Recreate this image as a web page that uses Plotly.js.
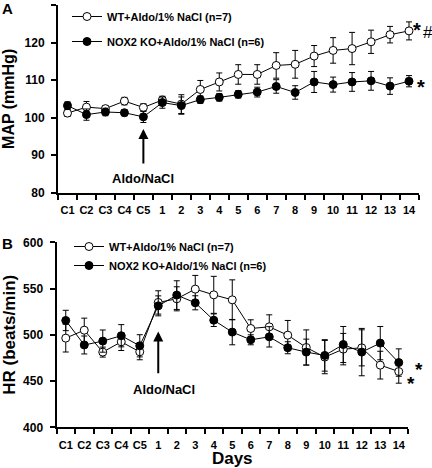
<!DOCTYPE html>
<html>
<head>
<meta charset="utf-8">
<script src="https://cdn.plot.ly/plotly-3.0.1.min.js"></script>
<style>html,body{margin:0;padding:0;background:#fff;}#chart{width:432px;height:468px;}</style>
</head>
<body>
<div id="chart"></div>
<script>
// ---- data ----
const days = ['C1','C2','C3','C4','C5','1','2','3','4','5','6','7','8','9','10','11','12','13','14'];

const mapWT    = [101.2,102.8,102.4,104.4,102.7,104.7,103.6,107.5,109.5,111.5,111.5,113.9,114.2,116.4,117.9,118.4,120.2,122.1,123.1];
const mapWTerr = [0.9,1.5,0.8,1.0,1.0,1.0,2.5,2.4,2.4,2.6,2.6,3.4,3.7,2.8,3.4,4.3,3.1,2.2,2.4];
const mapKO    = [103.2,100.8,101.5,101.3,100.2,104.0,103.2,104.8,105.4,106.2,106.8,108.3,106.7,109.5,108.8,109.5,109.8,108.4,109.7];
const mapKOerr = [1.0,1.5,1.0,0.8,1.5,1.5,2.3,1.0,1.0,1.0,1.3,1.8,1.8,2.8,2.0,2.5,2.5,2.2,1.5];

const hrWT     = [496.4,505,481.3,492.4,481.6,535,538.9,549.4,543.2,537.8,506.8,508.6,499.6,486.3,475.9,484.5,485.9,467.2,460.3];
const hrWTerr  = [15,13,5.4,9.4,8.6,12.6,13,14.8,20,21.6,9.4,13,15.9,19,18,17,19.5,15,12.6];
const hrKO     = [515.5,489,493.2,499,488.1,531.3,542.9,534.6,515.8,502.9,494.6,497.8,486,481.3,477.7,489.5,481.3,491,470];
const hrKOerr  = [11,9.7,12,12,12,10.8,15.5,7.6,6.8,13.7,5.4,11,6.5,14,17,19.5,25.6,18,14.8];

const nameWT = 'WT+Aldo/1% NaCl (n=7)';
const nameKO = 'NOX2 KO+Aldo/1% NaCl (n=6)';

// ---- helpers ----
const W = 432, H = 468;
const px = x => x / W;
const py = y => 1 - y / H;
const FONT = 'Liberation Sans, Arial, sans-serif';

function series(y, err, filled, name, xa, ya, legend, group) {
  return {
    x: days, y: y, name: name, type: 'scatter', mode: 'lines+markers',
    xaxis: xa, yaxis: ya, legend: legend, legendgroup: group,
    line: {color: '#000', width: 1},
    marker: {size: 8, symbol: 'circle', color: filled ? '#000' : '#fff', line: {color: '#000', width: 1}},
    error_y: {type: 'data', array: err, visible: true, color: '#000', thickness: 1, width: 3}
  };
}

const traces = [
  series(mapWT, mapWTerr, false, nameWT, 'x', 'y', 'legend', 'a'),
  series(mapKO, mapKOerr, true, nameKO, 'x', 'y', 'legend', 'b'),
  series(hrWT, hrWTerr, false, nameWT, 'x2', 'y2', 'legend2', 'c'),
  series(hrKO, hrKOerr, true, nameKO, 'x2', 'y2', 'legend2', 'd')
];

const axisBase = {
  showline: true, linecolor: '#000', linewidth: 2, mirror: false,
  ticks: 'outside', ticklen: 5, tickwidth: 2, tickcolor: '#000',
  showgrid: false, zeroline: false, fixedrange: true
};
const xTickFont = {family: FONT, size: 11, color: '#000', weight: 'bold'};
const yTickFont = {family: FONT, size: 12, color: '#000', weight: 'bold'};

const layout = {
  width: W, height: H,
  margin: {l: 0, r: 0, t: 0, b: 0},
  paper_bgcolor: '#fff', plot_bgcolor: '#fff',
  font: {family: FONT, color: '#000'},
  showlegend: true,
  xaxis: Object.assign({}, axisBase, {
    type: 'category', range: [-0.5, 18.5], tickson: 'boundaries', tickangle: 0,
    domain: [px(58), px(418.5)], anchor: 'y', tickfont: xTickFont, ticklabelstandoff: 6
  }),
  yaxis: Object.assign({}, axisBase, {
    range: [80, 130], dtick: 10, domain: [py(192.7), py(5)], anchor: 'x',
    tickfont: yTickFont, ticklabelstandoff: 4,
    title: {text: 'MAP (mmHg)', font: {family: FONT, size: 16, weight: 'bold'}, standoff: 10}
  }),
  xaxis2: Object.assign({}, axisBase, {
    type: 'category', range: [-0.5, 18.5], tickson: 'boundaries', tickangle: 0,
    domain: [px(56.5), px(408)], anchor: 'y2', tickfont: xTickFont, ticklabelstandoff: 6,
    title: {text: 'Days', font: {family: FONT, size: 17, weight: 'bold'}, standoff: 3}
  }),
  yaxis2: Object.assign({}, axisBase, {
    range: [400, 600], dtick: 50, domain: [py(427.3), py(242.3)], anchor: 'x2',
    tickfont: yTickFont, ticklabelstandoff: 4,
    title: {text: 'HR (beats/min)', font: {family: FONT, size: 17, weight: 'bold'}, standoff: 10}
  }),
  legend: {
    x: px(67), y: py(2), xanchor: 'left', yanchor: 'top', bgcolor: 'rgba(0,0,0,0)',
    borderwidth: 0, font: {family: FONT, size: 11, weight: 'bold', color: '#000'},
    itemwidth: 30, tracegroupgap: 6, traceorder: 'grouped'
  },
  legend2: {
    x: px(69), y: py(232), xanchor: 'left', yanchor: 'top', bgcolor: 'rgba(0,0,0,0)',
    borderwidth: 0, font: {family: FONT, size: 11, weight: 'bold', color: '#000'},
    itemwidth: 30, tracegroupgap: 0, traceorder: 'grouped'
  },
  annotations: [
    // panel letters
    {text: 'A', xref: 'paper', yref: 'paper', x: px(7), y: py(8), showarrow: false,
     font: {family: FONT, size: 15, weight: 'bold'}, xanchor: 'center', yanchor: 'middle'},
    {text: 'B', xref: 'paper', yref: 'paper', x: px(7), y: py(243), showarrow: false,
     font: {family: FONT, size: 15, weight: 'bold'}, xanchor: 'center', yanchor: 'middle'},
    // treatment arrows
    {text: '', xref: 'x', yref: 'y', x: 4, y: 97.0, axref: 'x', ayref: 'y', ax: 4, ay: 87.4,
     showarrow: true, arrowhead: 2, arrowsize: 1, arrowwidth: 2, arrowcolor: '#000'},
    {text: 'Aldo/NaCl', xref: 'x', yref: 'y', x: 4, y: 83.7, showarrow: false,
     font: {family: FONT, size: 13, weight: 'bold'}, xanchor: 'center', yanchor: 'middle'},
    {text: '', xref: 'x2', yref: 'y2', x: 5, y: 503.6, axref: 'x2', ayref: 'y2', ax: 5, ay: 456.8,
     showarrow: true, arrowhead: 2, arrowsize: 1, arrowwidth: 2, arrowcolor: '#000'},
    {text: 'Aldo/NaCl', xref: 'x2', yref: 'y2', x: 5.3, y: 440.5, showarrow: false,
     font: {family: FONT, size: 13, weight: 'bold'}, xanchor: 'center', yanchor: 'middle'},
    // significance marks
    {text: '*', xref: 'paper', yref: 'paper', x: px(416.7), y: py(25), showarrow: false,
     font: {family: FONT, size: 20, weight: 'bold'}, xanchor: 'center', yanchor: 'middle', yshift: -5},
    {text: '#', xref: 'paper', yref: 'paper', x: px(427.5), y: py(33), showarrow: false,
     font: {family: FONT, size: 17}, xanchor: 'center', yanchor: 'middle'},
    {text: '*', xref: 'paper', yref: 'paper', x: px(420.5), y: py(81.5), showarrow: false,
     font: {family: FONT, size: 20, weight: 'bold'}, xanchor: 'center', yanchor: 'middle', yshift: -5},
    {text: '*', xref: 'paper', yref: 'paper', x: px(419), y: py(364), showarrow: false,
     font: {family: FONT, size: 19, weight: 'bold'}, xanchor: 'center', yanchor: 'middle', yshift: -5},
    {text: '*', xref: 'paper', yref: 'paper', x: px(410.5), y: py(378), showarrow: false,
     font: {family: FONT, size: 19, weight: 'bold'}, xanchor: 'center', yanchor: 'middle', yshift: -5}
  ]
};

Plotly.newPlot('chart', traces, layout, {displayModeBar: false, staticPlot: true});
</script>
</body>
</html>
